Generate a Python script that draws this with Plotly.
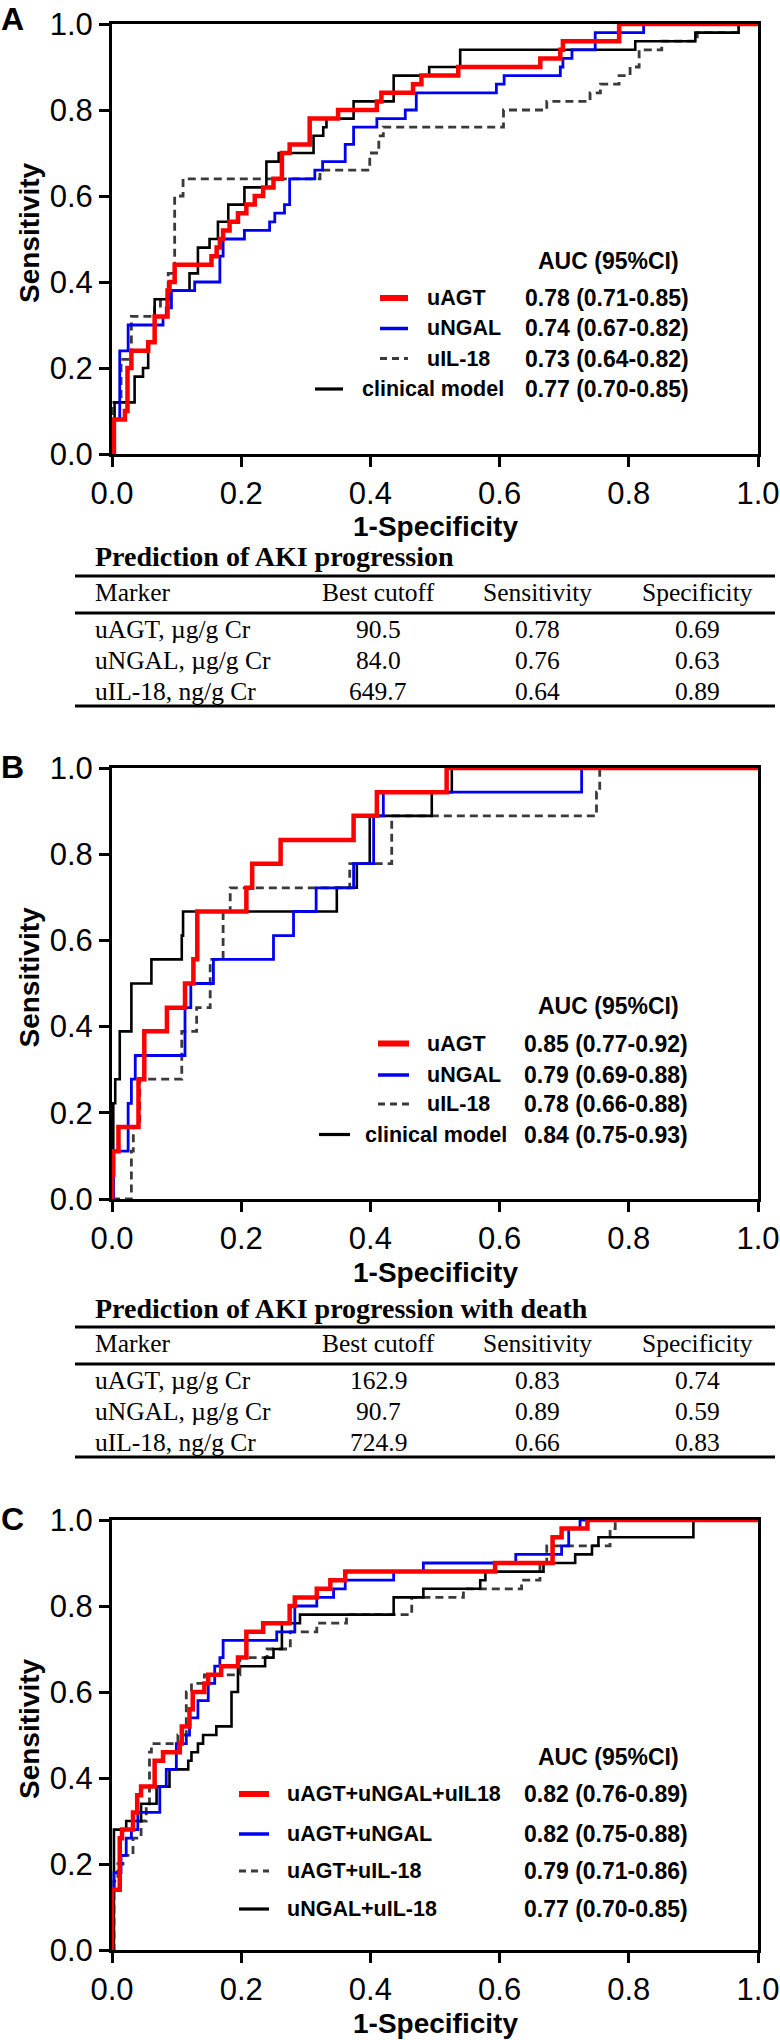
import plotly.graph_objects as go

# ---------------- DATA ----------------
# Panel A: prediction of AKI progression (x = 1-Specificity, y = Sensitivity)
A_uAGT_x = [0, 0.003, 0.020, 0.024, 0.030, 0.056, 0.066, 0.086, 0.089, 0.097, 0.154, 0.162, 0.167, 0.172, 0.182, 0.195, 0.208, 0.221, 0.234, 0.250, 0.263, 0.275, 0.306, 0.350, 0.410, 0.417, 0.466, 0.479, 0.536, 0.663, 0.694, 0.698, 0.785, 1.0]
A_uAGT_y = [0, 0.08, 0.10, 0.20, 0.24, 0.26, 0.32, 0.38, 0.40, 0.44, 0.46, 0.48, 0.50, 0.52, 0.54, 0.56, 0.58, 0.60, 0.62, 0.64, 0.70, 0.72, 0.78, 0.80, 0.82, 0.84, 0.86, 0.88, 0.90, 0.92, 0.94, 0.96, 1.0, 1.0]
A_uNGAL_x = [0, 0, 0.012, 0.025, 0.079, 0.084, 0.092, 0.128, 0.167, 0.172, 0.205, 0.244, 0.252, 0.267, 0.275, 0.314, 0.326, 0.361, 0.374, 0.410, 0.454, 0.471, 0.595, 0.607, 0.694, 0.698, 0.712, 0.748, 0.823, 1.0]
A_uNGAL_y = [0, 0.08, 0.24, 0.30, 0.32, 0.34, 0.38, 0.40, 0.46, 0.50, 0.52, 0.54, 0.56, 0.58, 0.64, 0.66, 0.68, 0.72, 0.76, 0.78, 0.80, 0.84, 0.86, 0.88, 0.90, 0.92, 0.94, 0.98, 1.0, 1.0]
A_uIL18_x = [0, 0, 0.014, 0.030, 0.066, 0.075, 0.087, 0.097, 0.110, 0.322, 0.399, 0.413, 0.420, 0.606, 0.673, 0.740, 0.756, 0.785, 0.802, 0.816, 0.851, 0.906, 0.970, 1.0]
A_uIL18_y = [0, 0.12, 0.22, 0.32, 0.34, 0.36, 0.42, 0.60, 0.64, 0.66, 0.70, 0.74, 0.76, 0.80, 0.82, 0.84, 0.86, 0.88, 0.90, 0.94, 0.96, 0.98, 1.0, 1.0]
A_clin_x = [0, 0, 0.004, 0.035, 0.048, 0.056, 0.066, 0.089, 0.120, 0.133, 0.151, 0.164, 0.180, 0.205, 0.239, 0.258, 0.312, 0.327, 0.332, 0.374, 0.436, 0.491, 0.539, 0.810, 0.903, 0.970, 1.0]
A_clin_y = [0, 0.02, 0.12, 0.18, 0.20, 0.26, 0.36, 0.38, 0.42, 0.48, 0.50, 0.54, 0.58, 0.62, 0.68, 0.70, 0.74, 0.76, 0.78, 0.82, 0.88, 0.90, 0.94, 0.96, 0.98, 1.0, 1.0]

# Panel B: prediction of AKI progression with death
B_uAGT_x = [0, 0, 0.002, 0.010, 0.041, 0.050, 0.085, 0.113, 0.126, 0.132, 0.208, 0.217, 0.261, 0.374, 0.410, 0.518, 1.0]
B_uAGT_y = [0, 0.056, 0.111, 0.167, 0.278, 0.389, 0.444, 0.500, 0.556, 0.667, 0.722, 0.778, 0.833, 0.889, 0.944, 1.0, 1.0]
B_uNGAL_x = [0, 0.002, 0.025, 0.030, 0.036, 0.113, 0.122, 0.157, 0.250, 0.281, 0.316, 0.374, 0.405, 0.420, 0.727, 1.0]
B_uNGAL_y = [0, 0.111, 0.222, 0.278, 0.333, 0.444, 0.500, 0.556, 0.611, 0.667, 0.722, 0.778, 0.889, 0.944, 1.0, 1.0]
B_uIL18_x = [0, 0.030, 0.033, 0.043, 0.108, 0.131, 0.152, 0.172, 0.183, 0.368, 0.433, 0.750, 0.755, 1.0]
B_uIL18_y = [0, 0.111, 0.167, 0.278, 0.389, 0.444, 0.556, 0.667, 0.722, 0.778, 0.889, 0.944, 1.0, 1.0]
B_clin_x = [0, 0.002, 0.005, 0.012, 0.030, 0.061, 0.108, 0.110, 0.348, 0.379, 0.399, 0.495, 0.526, 1.0]
B_clin_y = [0, 0.222, 0.278, 0.389, 0.500, 0.556, 0.611, 0.667, 0.722, 0.778, 0.889, 0.944, 1.0, 1.0]

# Panel C: marker combinations
C_ANI_x = [0, 0, 0.012, 0.0155, 0.0325, 0.039, 0.045, 0.066, 0.079, 0.105, 0.108, 0.120, 0.125, 0.143, 0.149, 0.169, 0.195, 0.208, 0.234, 0.275, 0.283, 0.317, 0.338, 0.361, 0.593, 0.682, 0.696, 0.736, 1.0]
C_ANI_y = [0, 0.14, 0.26, 0.28, 0.32, 0.36, 0.38, 0.44, 0.46, 0.48, 0.52, 0.56, 0.60, 0.62, 0.64, 0.66, 0.68, 0.74, 0.76, 0.80, 0.82, 0.84, 0.86, 0.88, 0.90, 0.96, 0.98, 1.0, 1.0]
C_AN_x = [0, 0, 0.003, 0.014, 0.022, 0.030, 0.040, 0.074, 0.084, 0.0996, 0.115, 0.120, 0.133, 0.149, 0.159, 0.167, 0.172, 0.255, 0.283, 0.317, 0.343, 0.361, 0.436, 0.482, 0.625, 0.696, 0.707, 0.7245, 1.0]
C_AN_y = [0, 0.14, 0.18, 0.22, 0.26, 0.28, 0.32, 0.38, 0.42, 0.48, 0.50, 0.54, 0.58, 0.62, 0.66, 0.68, 0.72, 0.74, 0.80, 0.82, 0.84, 0.86, 0.88, 0.90, 0.92, 0.94, 0.98, 1.0, 1.0]
C_AI_x = [0, 0.003, 0.009, 0.017, 0.0325, 0.045, 0.053, 0.058, 0.061, 0.102, 0.115, 0.123, 0.143, 0.198, 0.240, 0.276, 0.317, 0.363, 0.464, 0.544, 0.634, 0.6625, 0.673, 0.771, 0.779, 1.0]
C_AI_y = [0, 0.16, 0.20, 0.22, 0.26, 0.30, 0.34, 0.46, 0.48, 0.50, 0.60, 0.62, 0.64, 0.68, 0.70, 0.74, 0.76, 0.78, 0.82, 0.84, 0.86, 0.90, 0.94, 0.98, 1.0, 1.0]
C_NI_x = [0, 0.003, 0.022, 0.045, 0.069, 0.089, 0.118, 0.123, 0.133, 0.141, 0.1615, 0.185, 0.195, 0.237, 0.250, 0.263, 0.291, 0.436, 0.482, 0.570, 0.578, 0.668, 0.717, 0.743, 0.753, 0.900, 1.0]
C_NI_y = [0, 0.28, 0.30, 0.34, 0.38, 0.42, 0.44, 0.46, 0.48, 0.50, 0.52, 0.60, 0.66, 0.68, 0.70, 0.76, 0.78, 0.82, 0.84, 0.86, 0.88, 0.90, 0.92, 0.94, 0.96, 1.0, 1.0]

# Legend labels and AUC text
A_names = ["uAGT", "uNGAL", "uIL-18", "clinical model"]
A_auc = ["0.78 (0.71-0.85)", "0.74 (0.67-0.82)", "0.73 (0.64-0.82)", "0.77 (0.70-0.85)"]
B_names = ["uAGT", "uNGAL", "uIL-18", "clinical model"]
B_auc = ["0.85 (0.77-0.92)", "0.79 (0.69-0.88)", "0.78 (0.66-0.88)", "0.84 (0.75-0.93)"]
C_names = ["uAGT+uNGAL+uIL18", "uAGT+uNGAL", "uAGT+uIL-18", "uNGAL+uIL-18"]
C_auc = ["0.82 (0.76-0.89)", "0.82 (0.75-0.88)", "0.79 (0.71-0.86)", "0.77 (0.70-0.85)"]

# Tables
table_header = ["Marker", "Best cutoff", "Sensitivity", "Specificity"]
table_markers = ["uAGT, µg/g Cr", "uNGAL, µg/g Cr", "uIL-18, ng/g Cr"]
A_table_title = "Prediction of AKI progression"
A_cutoff = ["90.5", "84.0", "649.7"]
A_sens = ["0.78", "0.76", "0.64"]
A_spec = ["0.69", "0.63", "0.89"]
B_table_title = "Prediction of AKI progression with death"
B_cutoff = ["162.9", "90.7", "724.9"]
B_sens = ["0.83", "0.89", "0.66"]
B_spec = ["0.74", "0.59", "0.83"]

tick_vals = [0, 0.2, 0.4, 0.6, 0.8, 1.0]
tick_text = ["0.0", "0.2", "0.4", "0.6", "0.8", "1.0"]

# ---------------- LAYOUT HELPERS ----------------
W, H = 780, 2040
SANS = "Liberation Sans, Arial, Helvetica, sans-serif"
SERIF = "Liberation Serif, Times New Roman, serif"
RED, BLUE, GRAY, BLACK = "#ff0000", "#0000f0", "#3a3a3a", "#000000"
STY = {
    "red": dict(color=RED, width=4.5),
    "blue": dict(color=BLUE, width=2.8),
    "dash": dict(color=GRAY, width=2.8, dash="8px,5px"),
    "black": dict(color=BLACK, width=2.6),
}
LEG_STY = {
    "red": dict(color=RED, width=6),
    "blue": dict(color=BLUE, width=3.5),
    "dash": dict(color=GRAY, width=3.2, dash="7px,5px"),
    "black": dict(color=BLACK, width=3.2),
}


def X(p):
    return p / W


def Y(p):
    return 1 - p / H


PLOT_L, PLOT_R = 112, 758
PANEL_Y = [(24, 454), (768, 1199), (1520, 1950)]

fig = go.Figure()
annotations = []
shapes = []


def txt(x, y, s, size, xanchor="left", family=SANS, angle=0):
    annotations.append(dict(
        x=X(x), y=Y(y), xref="paper", yref="paper", text=s, showarrow=False,
        xanchor=xanchor, yanchor="middle", textangle=angle, borderpad=0, borderwidth=0,
        font=dict(family=family, size=size, color="black")))


def hline(x0, x1, y, line):
    shapes.append(dict(type="line", xref="paper", yref="paper",
                       x0=X(x0), x1=X(x1), y0=Y(y), y1=Y(y), line=line))


panels = [
    dict(series=[("dash", A_uIL18_x, A_uIL18_y), ("black", A_clin_x, A_clin_y),
                 ("blue", A_uNGAL_x, A_uNGAL_y), ("red", A_uAGT_x, A_uAGT_y)],
         letter="A"),
    dict(series=[("dash", B_uIL18_x, B_uIL18_y), ("black", B_clin_x, B_clin_y),
                 ("blue", B_uNGAL_x, B_uNGAL_y), ("red", B_uAGT_x, B_uAGT_y)],
         letter="B"),
    dict(series=[("dash", C_AI_x, C_AI_y), ("black", C_NI_x, C_NI_y),
                 ("blue", C_AN_x, C_AN_y), ("red", C_ANI_x, C_ANI_y)],
         letter="C"),
]

layout_axes = {}
for i, p in enumerate(panels):
    n = "" if i == 0 else str(i + 1)
    top, bot = PANEL_Y[i]
    for key, xs, ys in p["series"]:
        fig.add_trace(go.Scatter(x=xs, y=ys, mode="lines", line=dict(shape="hv", **STY[key]),
                                 xaxis="x" + n, yaxis="y" + n, showlegend=False, hoverinfo="skip"))
    common = dict(range=[0, 1], showline=True, linecolor="black", linewidth=3, mirror=True,
                  ticks="outside", ticklen=10, tickwidth=3, tickcolor="black",
                  tickvals=tick_vals, ticktext=tick_text, showgrid=False, zeroline=False,
                  automargin=False,
                  tickfont=dict(family=SANS, size=31, color="black"), fixedrange=True)
    layout_axes["xaxis" + n] = dict(domain=[X(PLOT_L), X(PLOT_R)], anchor="y" + n, **common)
    layout_axes["yaxis" + n] = dict(domain=[Y(bot), Y(top)], anchor="x" + n, **common)
    # panel letter
    txt(1, top - 5 if i == 0 else top - 1, "<b>%s</b>" % p["letter"], 32)
    # axis titles
    txt(29, (top + bot) / 2 - 6, "<b>Sensitivity</b>", 28, xanchor="center", angle=-90)
    txt((PLOT_L + PLOT_R) / 2, bot + 73, "<b>1-Specificity</b>", 28, xanchor="center")

# ---------------- LEGENDS (sample line + name + AUC) ----------------
keys = ["red", "blue", "dash", "black"]
legend_specs = [
    dict(names=A_names, auc=A_auc, head_y=260.5, rows=[298, 328.5, 358.5, 389],
         name_x=[427, 427, 427, 362], line_x=[(380, 408)] * 3 + [(315, 343)], val_x=525),
    dict(names=B_names, auc=B_auc, head_y=1006, rows=[1043.5, 1075, 1104, 1134.5],
         name_x=[427, 427, 427, 365], line_x=[(378, 409)] * 3 + [(319, 350)], val_x=524),
    dict(names=C_names, auc=C_auc, head_y=1757, rows=[1794, 1834, 1871, 1909],
         name_x=[287] * 4, line_x=[(239, 269)] * 4, val_x=524),
]
for spec in legend_specs:
    txt(608, spec["head_y"], "<b>AUC (95%CI)</b>", 23, xanchor="center")
    for k, nm, au, ry, nx, (lx0, lx1) in zip(keys, spec["names"], spec["auc"], spec["rows"],
                                             spec["name_x"], spec["line_x"]):
        hline(lx0, lx1, ry, LEG_STY[k])
        txt(nx, ry, "<b>%s</b>" % nm, 21.5)
        txt(spec["val_x"], ry, "<b>%s</b>" % au, 23)

# ---------------- TABLES ----------------
col_x = [94.5, 378, 537, 697]
tables = [
    dict(title=A_table_title, cut=A_cutoff, sens=A_sens, spec=A_spec, y0=557),
    dict(title=B_table_title, cut=B_cutoff, sens=B_sens, spec=B_spec, y0=1308),
]
rule = dict(color="black", width=3)
for t in tables:
    y0 = t["y0"]
    txt(94.5, y0, "<b>%s</b>" % t["title"], 28, family=SERIF)
    hline(75, 775, y0 + 19, rule)
    for j, h in enumerate(table_header):
        txt(col_x[j], y0 + 35, h, 25.5, xanchor="left" if j == 0 else "center", family=SERIF)
    hline(75, 775, y0 + 56, rule)
    for r, (m, c, s, sp) in enumerate(zip(table_markers, t["cut"], t["sens"], t["spec"])):
        ry = y0 + 72.5 + 31 * r
        txt(col_x[0], ry, m, 25.5, family=SERIF)
        txt(col_x[1], ry, c, 25.5, xanchor="center", family=SERIF)
        txt(col_x[2], ry, s, 25.5, xanchor="center", family=SERIF)
        txt(col_x[3], ry, sp, 25.5, xanchor="center", family=SERIF)
    hline(75, 775, y0 + 149, rule)

fig.update_layout(
    width=W, height=H, margin=dict(l=0, r=0, t=0, b=0, pad=0, autoexpand=False),
    paper_bgcolor="white", plot_bgcolor="white",
    showlegend=False, annotations=annotations, shapes=shapes, **layout_axes)

fig.write_html("out.html",
               config={"displayModeBar": False, "responsive": False},
               post_script="document.body.style.margin='0px';"
                           "document.documentElement.style.overflow='hidden';")
